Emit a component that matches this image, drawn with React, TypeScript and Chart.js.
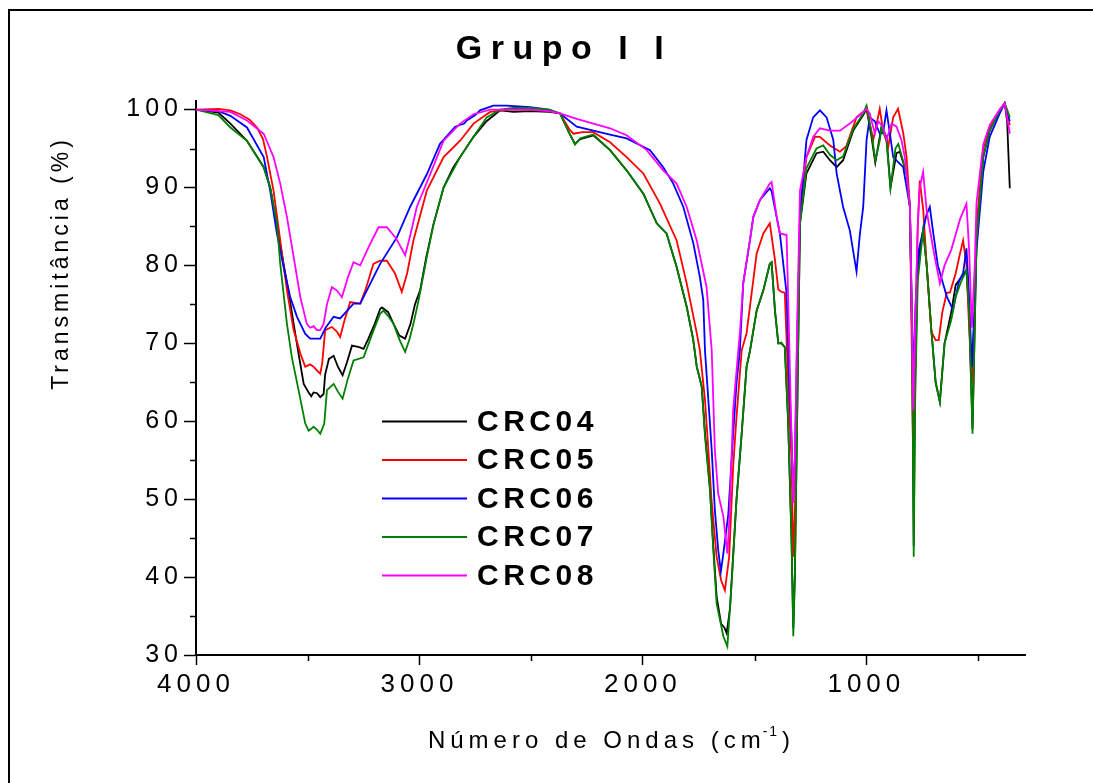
import { useEffect, useRef } from "react";
import { Chart, registerables } from "chart.js";

Chart.register(...registerables);

const seriesLabels = ["CRC04", "CRC05", "CRC06", "CRC07", "CRC08"];
const seriesColors = ["#000000", "#ff0000", "#0000ff", "#008000", "#ff00ff"];
const xTicks = [4000, 3000, 2000, 1000];
const xMinorTicks = [3500, 2500, 1500, 500];
const yTicks = [30, 40, 50, 60, 70, 80, 90, 100];
const yMinorTicks = [35, 45, 55, 65, 75, 85, 95];
const titleText = "Grupo I I";
const yTitleText = "Transmitância (%)";
const xTitleMain = "Número de Ondas (cm";
const xTitleSup = "-1";
const xTitleEnd = ")";

const crc04: [number, number][] = [
  [4000, 100], [3900, 99.6], [3846, 98.2], [3772, 96.0], [3697, 92.6], [3668, 90.0], [3638, 85.3], [3608, 80.2], [3585, 76.5], [3563, 72.5],
  [3540, 68.5], [3518, 64.8], [3496, 63.7], [3484, 63.2], [3474, 63.7], [3458, 63.6], [3444, 63.1], [3429, 63.5], [3422, 66.0], [3405, 68.0],
  [3384, 68.4], [3365, 67.0], [3344, 65.9], [3325, 67.5], [3302, 69.7], [3270, 69.5], [3250, 69.3], [3230, 70.5], [3200, 72.5], [3176, 74.4],
  [3168, 74.6], [3140, 74.0], [3116, 72.5], [3090, 71.0], [3064, 70.6], [3040, 72.5], [3020, 75.0], [2997, 76.8], [2970, 81.0], [2937, 85.3],
  [2892, 90.0], [2850, 92.5], [2818, 93.9], [2758, 96.5], [2700, 98.5], [2639, 99.9], [2579, 99.7], [2505, 99.8], [2420, 99.7], [2371, 99.5],
  [2330, 97.0], [2304, 95.6], [2280, 96.2], [2222, 96.7], [2147, 94.8], [2073, 92.2], [1998, 89.2], [1938, 85.4], [1894, 84.1], [1849, 79.8],
  [1804, 74.7], [1775, 70.5], [1759, 67.0], [1737, 64.5], [1722, 58.5], [1700, 51.5], [1685, 44.0], [1670, 37.5], [1650, 34.0], [1635, 33.5],
  [1625, 32.8], [1610, 36.0], [1603, 39.5], [1581, 50.0], [1558, 58.4], [1536, 67.0], [1521, 69.0], [1491, 74.2], [1461, 76.8], [1432, 80.2],
  [1424, 80.4], [1409, 74.2], [1394, 70.0], [1380, 70.0], [1365, 69.5], [1350, 60.0], [1335, 45.0], [1327, 33.5], [1320, 40.0], [1310, 60.0],
  [1297, 85.4], [1268, 91.8], [1223, 94.4], [1193, 94.6], [1163, 93.5], [1133, 92.6], [1104, 93.5], [1059, 97.3], [1014, 99.3], [999, 100.1],
  [977, 96.5], [960, 93.2], [932, 97.8], [910, 96.5], [892, 90.0], [865, 94.4], [850, 94.6], [820, 91.8], [805, 87.5], [795, 70.0],
  [788, 44.0], [782, 65.0], [770, 80.0], [746, 84.5], [730, 80.0], [710, 72.0], [690, 65.0], [671, 62.5], [650, 70.0], [620, 74.0],
  [600, 77.5], [575, 78.5], [552, 79.4], [540, 74.0], [525, 59.0], [515, 72.0], [507, 83.2], [477, 93.9], [448, 97.3], [403, 99.9],
  [381, 100.8], [370, 98.5], [358, 89.9],
];

const crc05: [number, number][] = [
  [4000, 100], [3900, 100.1], [3846, 99.9], [3802, 99.4], [3760, 98.7], [3727, 97.7], [3700, 96.2], [3682, 93.9], [3653, 89.6], [3623, 83.2],
  [3593, 76.8], [3563, 71.7], [3533, 68.7], [3511, 67.0], [3490, 67.3], [3474, 67.0], [3458, 66.5], [3444, 66.1], [3435, 67.5], [3422, 71.7],
  [3392, 72.1], [3370, 71.5], [3355, 70.8], [3335, 73.0], [3310, 75.3], [3265, 75.1], [3240, 77.0], [3206, 80.2], [3176, 80.6], [3146, 80.6],
  [3110, 79.0], [3079, 76.6], [3055, 79.0], [3027, 83.2], [2967, 89.6], [2892, 93.9], [2818, 96.0], [2758, 98.2], [2684, 99.7], [2600, 100],
  [2505, 100], [2420, 99.8], [2371, 99.5], [2330, 97.5], [2311, 96.9], [2270, 97.1], [2222, 97.1], [2147, 95.8], [2073, 93.9], [1998, 91.8],
  [1923, 87.9], [1849, 83.2], [1804, 77.7], [1759, 71.3], [1745, 69.1], [1722, 62.7], [1707, 56.3], [1693, 49.9], [1670, 42.6], [1650, 39.6],
  [1633, 38.3], [1614, 42.6], [1596, 54.2], [1581, 60.6], [1558, 69.1], [1536, 71.3], [1491, 81.5], [1461, 84.1], [1432, 85.4], [1409, 80.7],
  [1394, 76.9], [1380, 76.6], [1365, 76.5], [1350, 65.0], [1335, 55.0], [1327, 42.6], [1320, 48.0], [1310, 65.0], [1297, 87.5], [1268, 93.9],
  [1230, 96.5], [1208, 96.5], [1163, 95.4], [1118, 94.6], [1090, 95.3], [1044, 99.0], [999, 100.1], [969, 96.1], [940, 100.1], [925, 97.3],
  [902, 95.2], [880, 99.0], [858, 100.1], [835, 97.0], [820, 93.9], [805, 87.5], [797, 70.0], [790, 55.0], [782, 70.0], [770, 85.0],
  [761, 90.9], [745, 87.0], [730, 80.0], [709, 71.5], [690, 70.4], [676, 70.4], [660, 74.0], [640, 76.5], [626, 76.5], [600, 79.0],
  [585, 81.0], [567, 83.2], [552, 80.0], [540, 72.0], [528, 64.8], [515, 75.0], [507, 85.0], [477, 95.0], [448, 97.8], [403, 100],
  [381, 100.8], [358, 98.0],
];

const crc06: [number, number][] = [
  [4000, 100], [3900, 99.8], [3846, 99.2], [3772, 97.7], [3697, 93.9], [3668, 89.6], [3638, 84.1], [3608, 79.8], [3578, 75.9], [3548, 73.4],
  [3511, 71.2], [3489, 70.6], [3444, 70.6], [3420, 72.0], [3384, 73.4], [3355, 73.2], [3320, 74.3], [3295, 75.1], [3265, 75.1], [3176, 80.2],
  [3101, 83.6], [3042, 87.5], [2967, 91.7], [2908, 95.6], [2840, 97.8], [2800, 98.2], [2788, 98.6], [2750, 99.3], [2729, 99.9], [2669, 100.5],
  [2610, 100.5], [2505, 100.3], [2420, 100], [2371, 99.5], [2296, 97.8], [2222, 97.3], [2147, 96.8], [2073, 96.3], [1968, 94.8], [1909, 92.6],
  [1864, 90.5], [1819, 87.5], [1774, 82.8], [1745, 78.5], [1730, 75.6], [1722, 69.0], [1707, 62.7], [1692, 56.3], [1678, 48.6], [1663, 43.5],
  [1651, 40.7], [1640, 43.0], [1618, 48.0], [1596, 58.4], [1581, 64.9], [1566, 69.1], [1551, 77.7], [1521, 83.2], [1506, 86.2], [1476, 88.4],
  [1432, 89.9], [1424, 89.5], [1387, 84.1], [1357, 76.4], [1345, 65.0], [1335, 58.0], [1327, 50.3], [1320, 55.0], [1310, 70.0], [1297, 86.2],
  [1268, 96.1], [1238, 99.0], [1208, 99.9], [1178, 99.0], [1148, 96.1], [1133, 91.8], [1104, 87.5], [1074, 84.5], [1044, 79.2], [1029, 84.0],
  [1014, 87.5], [999, 96.1], [985, 99.0], [962, 98.5], [940, 96.9], [925, 97.0], [910, 99.9], [895, 97.0], [880, 93.9], [835, 92.6],
  [805, 87.5], [797, 75.0], [788, 65.0], [780, 75.0], [765, 82.0], [731, 86.5], [716, 87.5], [700, 84.0], [680, 80.0], [660, 78.0],
  [640, 76.0], [612, 74.3], [600, 76.0], [585, 78.0], [567, 79.0], [552, 82.2], [540, 76.0], [528, 67.0], [515, 75.0], [507, 82.0],
  [477, 92.0], [448, 96.5], [403, 99.5], [381, 100.8], [358, 98.5],
];

const crc07: [number, number][] = [
  [4000, 100], [3900, 99.3], [3846, 97.7], [3772, 96.0], [3697, 92.6], [3668, 90.0], [3638, 85.5], [3623, 80.2], [3593, 72.5], [3571, 68.2],
  [3541, 64.0], [3511, 59.7], [3496, 58.8], [3485, 59.0], [3474, 59.3], [3458, 58.9], [3444, 58.4], [3426, 59.7], [3414, 64.0], [3384, 64.8],
  [3365, 63.8], [3344, 62.9], [3320, 65.5], [3295, 67.8], [3250, 68.2], [3205, 71.7], [3176, 73.8], [3161, 74.2], [3140, 73.5], [3116, 72.5],
  [3090, 70.5], [3064, 68.9], [3045, 70.5], [3027, 72.5], [3004, 75.5], [2967, 81.1], [2937, 85.3], [2892, 90.0], [2818, 93.9], [2758, 96.5],
  [2699, 99.0], [2639, 100], [2579, 100.2], [2505, 100.2], [2420, 100], [2371, 99.5], [2330, 97.0], [2304, 95.5], [2280, 96.3], [2222, 96.8],
  [2147, 94.8], [2073, 92.2], [1998, 89.2], [1938, 85.4], [1894, 84.1], [1849, 79.8], [1804, 74.7], [1775, 70.5], [1759, 67.0], [1737, 64.5],
  [1722, 58.0], [1700, 51.2], [1685, 43.5], [1670, 36.6], [1640, 32.4], [1622, 31.1], [1603, 39.2], [1581, 49.9], [1558, 58.4], [1536, 67.0],
  [1521, 69.0], [1491, 74.2], [1461, 76.8], [1432, 80.2], [1424, 80.4], [1409, 74.2], [1394, 70.0], [1380, 70.1], [1365, 69.5], [1350, 60.0],
  [1335, 45.0], [1327, 32.4], [1320, 40.0], [1310, 60.0], [1297, 85.4], [1268, 92.5], [1223, 95.0], [1193, 95.4], [1163, 94.2], [1133, 93.5],
  [1104, 94.0], [1059, 97.5], [1014, 99.5], [999, 100.5], [977, 97.0], [960, 93.5], [940, 96.0], [932, 97.8], [910, 96.0], [892, 89.9],
  [870, 95.0], [857, 95.6], [820, 91.8], [805, 87.5], [795, 70.0], [788, 42.6], [782, 62.0], [770, 78.0], [746, 84.5], [730, 80.0],
  [710, 72.0], [690, 65.0], [671, 62.5], [650, 70.0], [620, 73.0], [600, 76.0], [575, 78.0], [552, 79.4], [540, 74.0], [525, 58.4],
  [515, 72.0], [507, 83.2], [477, 93.9], [448, 97.3], [403, 99.9], [381, 100.8], [370, 100], [358, 99.0],
];

const crc08: [number, number][] = [
  [4000, 100], [3900, 99.8], [3846, 99.7], [3772, 98.6], [3697, 96.9], [3653, 93.9], [3623, 90.5], [3593, 86.2], [3563, 81.1], [3533, 75.9],
  [3504, 72.5], [3489, 72.0], [3474, 72.2], [3459, 71.7], [3444, 71.7], [3429, 72.5], [3414, 75.0], [3392, 77.2], [3370, 76.8], [3347, 75.9],
  [3320, 78.5], [3295, 80.4], [3265, 80.0], [3225, 82.5], [3183, 84.9], [3146, 84.9], [3105, 83.5], [3064, 81.3], [3040, 84.0], [3012, 87.5],
  [2952, 91.7], [2892, 96.0], [2818, 98.2], [2758, 99.4], [2684, 100], [2505, 100], [2420, 99.8], [2371, 99.5], [2296, 98.8], [2222, 98.2],
  [2147, 97.6], [2073, 96.7], [1983, 94.8], [1909, 92.2], [1849, 90.5], [1804, 87.5], [1759, 83.2], [1715, 77.2], [1692, 69.1], [1678, 56.3],
  [1663, 50.7], [1640, 47.8], [1622, 43.0], [1612, 48.0], [1596, 61.5], [1573, 69.1], [1566, 71.3], [1551, 77.7], [1521, 83.2], [1506, 86.2],
  [1476, 88.4], [1432, 90.5], [1424, 90.7], [1400, 86.0], [1387, 84.1], [1357, 83.9], [1345, 70.0], [1335, 58.0], [1327, 49.5], [1320, 55.0],
  [1310, 72.0], [1297, 89.6], [1268, 93.9], [1238, 96.5], [1208, 97.6], [1163, 97.3], [1118, 97.3], [1074, 98.2], [1029, 99.3], [999, 100.1],
  [985, 99.5], [962, 96.9], [947, 98.5], [925, 97.8], [910, 96.1], [887, 98.2], [865, 97.8], [843, 96.1], [828, 93.9], [805, 87.5],
  [797, 75.0], [790, 61.4], [782, 72.0], [770, 85.0], [761, 90.0], [746, 92.0], [730, 87.0], [700, 82.0], [671, 77.7], [650, 80.0],
  [620, 82.0], [600, 84.0], [580, 86.0], [552, 87.9], [540, 82.0], [528, 72.0], [515, 80.0], [507, 88.0], [477, 95.5], [448, 98.0],
  [403, 100], [381, 100.8], [358, 96.9],
];

const seriesData = [crc04, crc05, crc06, crc07, crc08];

const FONT = "'Liberation Sans', Arial, sans-serif";

const overlayPlugin = {
  id: "overlay",
  beforeDraw(chart: any) {
    chart.ctx.letterSpacing = "5px";
  },
  beforeDatasetsDraw(chart: any) {
    chart.ctx.letterSpacing = "0px";
  },
  afterDraw(chart: any) {
    const ctx = chart.ctx as CanvasRenderingContext2D;
    const xs = chart.scales.x;
    const ys = chart.scales.y;
    const area = chart.chartArea;
    ctx.save();
    // minor ticks
    ctx.strokeStyle = "#000";
    ctx.lineWidth = 1.5;
    yMinorTicks.forEach((v) => {
      const py = Math.round(ys.getPixelForValue(v)) + 0.5;
      ctx.beginPath();
      ctx.moveTo(area.left - 6, py);
      ctx.lineTo(area.left, py);
      ctx.stroke();
    });
    xMinorTicks.forEach((v) => {
      const px = Math.round(xs.getPixelForValue(v)) + 0.5;
      ctx.beginPath();
      ctx.moveTo(px, area.bottom);
      ctx.lineTo(px, area.bottom + 6);
      ctx.stroke();
    });
    // title
    ctx.fillStyle = "#000";
    ctx.textBaseline = "middle";
    ctx.textAlign = "center";
    ctx.font = `bold 34px ${FONT}`;
    (ctx as any).letterSpacing = "8.5px";
    ctx.fillText(titleText, 560 + 4, 50);
    // y title
    ctx.save();
    ctx.translate(62, 265);
    ctx.rotate(-Math.PI / 2);
    ctx.font = `23px ${FONT}`;
    (ctx as any).letterSpacing = "4px";
    ctx.fillText(yTitleText, 2, 0);
    ctx.restore();
    // x title
    ctx.font = `24px ${FONT}`;
    (ctx as any).letterSpacing = "5px";
    ctx.textAlign = "left";
    const w1 = ctx.measureText(xTitleMain).width;
    ctx.font = `14px ${FONT}`;
    (ctx as any).letterSpacing = "2px";
    const w2 = ctx.measureText(xTitleSup).width;
    ctx.font = `24px ${FONT}`;
    (ctx as any).letterSpacing = "5px";
    const w3 = ctx.measureText(xTitleEnd).width;
    const total = w1 + w2 + w3;
    const cx = (area.left + area.right) / 2;
    let sx = cx - total / 2 + 1;
    const by = 741;
    ctx.fillText(xTitleMain, sx, by);
    sx += w1;
    ctx.font = `14px ${FONT}`;
    (ctx as any).letterSpacing = "2px";
    ctx.fillText(xTitleSup, sx - 3, by - 9);
    sx += w2;
    ctx.font = `24px ${FONT}`;
    (ctx as any).letterSpacing = "5px";
    ctx.fillText(xTitleEnd, sx, by);
    // legend
    ctx.font = `bold 30px ${FONT}`;
    (ctx as any).letterSpacing = "4.5px";
    ctx.textAlign = "left";
    chart.data.datasets.forEach((ds: any, i: number) => {
      const y = 421.5 + i * 38.5;
      ctx.strokeStyle = ds.borderColor;
      ctx.lineWidth = 2;
      ctx.beginPath();
      ctx.moveTo(382, y);
      ctx.lineTo(467, y);
      ctx.stroke();
      ctx.fillStyle = "#000";
      ctx.fillText(ds.label, 477, y + 1);
    });
    ctx.restore();
  },
};

export default function App() {
  const canvasRef = useRef<HTMLCanvasElement | null>(null);

  useEffect(() => {
    const canvas = canvasRef.current;
    if (!canvas) return;
    const chart = new Chart(canvas, {
      type: "line",
      data: {
        datasets: seriesData.map((s, i) => ({
          label: seriesLabels[i],
          data: s.map((p) => ({ x: p[0], y: p[1] })),
          borderColor: seriesColors[i],
          backgroundColor: seriesColors[i],
          borderWidth: 1.8,
          pointRadius: 0,
          tension: 0,
          fill: false,
          order: seriesData.length - i,
        })),
      },
      options: {
        animation: false,
        responsive: true,
        maintainAspectRatio: false,
        layout: { padding: { left: 0, right: 68, top: 101, bottom: 0 } },
        plugins: {
          legend: { display: false },
          tooltip: { enabled: false },
          title: { display: false },
        },
        scales: {
          x: {
            type: "linear",
            reverse: true,
            min: 290,
            max: 4000,
            afterBuildTicks: (scale: any) => {
              scale.ticks = xTicks.map((v) => ({ value: v }));
            },
            afterFit: (scale: any) => {
              scale.height = 128;
            },
            ticks: {
              color: "#000",
              font: { family: FONT, size: 26 },
              padding: 4,
              maxRotation: 0,
              autoSkip: false,
              callback: (v: any) => String(v),
            },
            grid: {
              drawOnChartArea: false,
              drawTicks: true,
              tickLength: 10,
              tickColor: "#000",
              tickWidth: 1.5,
            },
            border: { display: true, color: "#000", width: 2 },
          },
          y: {
            type: "linear",
            min: 30,
            max: 101.1,
            afterBuildTicks: (scale: any) => {
              scale.ticks = yTicks.map((v) => ({ value: v }));
            },
            afterFit: (scale: any) => {
              scale.width = 196;
            },
            ticks: {
              color: "#000",
              font: { family: FONT, size: 25 },
              padding: 1,
              autoSkip: false,
              callback: (v: any) => String(v),
            },
            grid: {
              drawOnChartArea: false,
              drawTicks: true,
              tickLength: 12,
              tickColor: "#000",
              tickWidth: 1.5,
            },
            border: { display: true, color: "#000", width: 2 },
          },
        },
      },
      plugins: [overlayPlugin],
    });
    return () => chart.destroy();
  }, []);

  return (
    <div style={{ position: "fixed", left: 0, top: 0, width: 1093, height: 783, background: "#fff", overflow: "hidden" }}>
      <div
        style={{
          position: "absolute",
          left: 8,
          top: 9,
          width: 1200,
          height: 900,
          borderLeft: "2px solid #000",
          borderTop: "2px solid #000",
          boxSizing: "border-box",
        }}
      />
      <canvas ref={canvasRef} style={{ position: "relative" }} />
    </div>
  );
}
